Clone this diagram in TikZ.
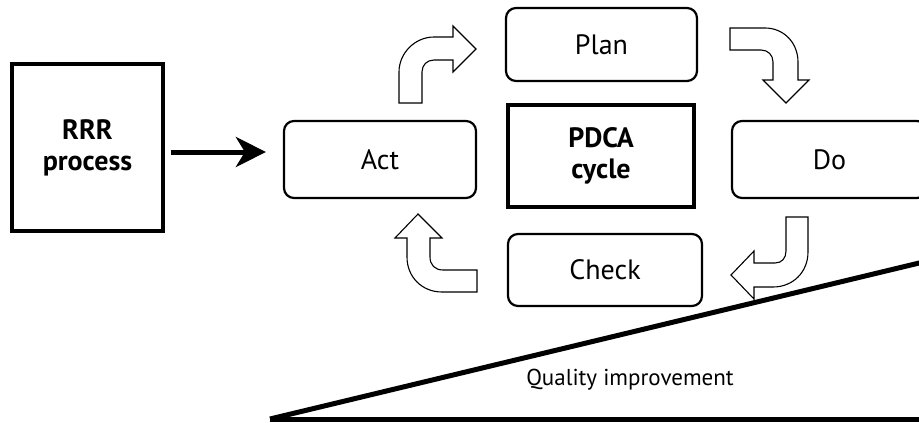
\documentclass[tikz,border=0pt]{standalone}
\usepackage{fontspec}
\setmainfont{PT Sans}
\usetikzlibrary{arrows.meta}
\begin{document}
\begin{tikzpicture}[x=1pt,y=-1pt,
  box/.style={draw, line width=2.2pt, rounded corners=10pt, inner sep=0pt, align=center, font=\fontsize{28}{32}\selectfont},
  thickbox/.style={draw, line width=4pt, inner sep=0pt, align=center, font=\fontsize{28}{31}\selectfont\bfseries},
  bent/.style={draw, line width=1.1pt, fill=white, line join=miter},
  slope/.style={line width=5pt}]
\useasboundingbox (0,0) rectangle (919,423);
\clip (0,0) rectangle (919,423);
% nodes
\node[thickbox, minimum width=151pt, minimum height=167pt] (rrr) at (87.5,147.5) {RRR\\process};
\node[box, minimum width=192pt, minimum height=77pt] (act) at (380,159.5) {Act};
\node[thickbox, minimum width=186pt, minimum height=102pt] (pdca) at (601,156) {PDCA\\cycle};
\node[box, minimum width=191pt, minimum height=73pt] (plan) at (601.5,44.5) {Plan};
\node[box, minimum width=195pt, minimum height=77pt] (do) at (829.5,159.5) {Do};
\node[box, minimum width=194pt, minimum height=72pt] (check) at (605,270) {Check};
% main arrow
\draw[line width=5pt, -{Stealth[length=30pt,width=30pt,inset=9pt]}]
  ([yshift=-4.5pt]rrr.east) ++(6,0) -- ([yshift=7.5pt,xshift=-17pt]act.west);
% bent block arrows
\path[bent] (399,103) -- (399,72) .. controls (399,53) and (415,37) .. (434,37)
  -- (453,37) -- (453,26) -- (476,49) -- (453,72) -- (453,60) -- (434,60)
  .. controls (427,60) and (422,65) .. (422,72) -- (422,103) -- cycle;
\path[bent] (730,28) -- (765,28) .. controls (784,28) and (798,43) .. (798,62)
  -- (798,80) -- (809,80) -- (786,103) -- (763,80) -- (773,80) -- (773,62)
  .. controls (773,55) and (768,50) .. (761,50) -- (730,50) -- cycle;
\path[bent] (786,217) -- (808,217) -- (808,252) .. controls (808,272) and (793,287) .. (773,287)
  -- (754,287) -- (754,299) -- (731,275) -- (754,251) -- (754,263) -- (775,263)
  .. controls (782,263) and (786,258) .. (786,251) -- cycle;
\path[bent] (477,270) -- (477,292) -- (442,292) .. controls (422,292) and (407,277) .. (407,257)
  -- (407,238) -- (395,238) -- (418,214) -- (442,238) -- (430,238) -- (430,257)
  .. controls (430,265) and (435,270) .. (443,270) -- cycle;
% quality wedge
\draw[slope] (270,419) -- (925,419);
\draw[slope] (270,419) -- (925,261.6);
\node[font=\fontsize{23}{26}\selectfont] (qual) at (630,380) {Quality improvement};
\end{tikzpicture}
\end{document}
